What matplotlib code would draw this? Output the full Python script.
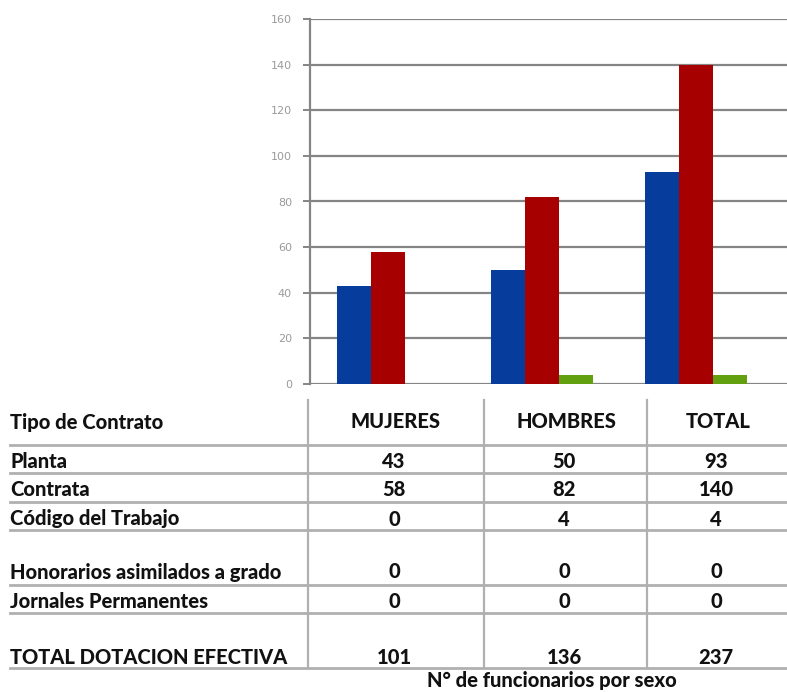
import matplotlib
matplotlib.use("Agg")
import matplotlib.pyplot as plt
from matplotlib.lines import Line2D

categories = ["MUJERES", "HOMBRES", "TOTAL"]
planta = [43, 50, 93]
contrata = [58, 82, 140]
codigo = [0, 4, 4]
honorarios = [0, 0, 0]
jornales = [0, 0, 0]
total_dot = [101, 136, 237]
row_labels = ["Planta", "Contrata", "Código del Trabajo", "Honorarios asimilados a grado",
              "Jornales Permanentes", "TOTAL DOTACION EFECTIVA"]
yticks = [0, 20, 40, 60, 80, 100, 120, 140, 160]

W, H = 787, 692
fig = plt.figure(figsize=(W / 100, H / 100), dpi=100)
fig.patch.set_facecolor("white")

def fx(x):
    return x / W

def fy(y):
    return 1 - y / H

ax = fig.add_axes([fx(310), fy(384), fx(787) - fx(310), fy(19) - fy(384)])
bw = 34 / 154
xs = list(range(len(categories)))
ax.bar([x - bw for x in xs], planta, width=bw, color="#063c9c", zorder=3)
ax.bar(xs, contrata, width=bw, color="#a60000", zorder=3)
ax.bar([x + bw for x in xs], codigo, width=bw, color="#62a010", zorder=3)
ax.set_xlim(-0.5 - 1 / 154, (787 - 310) / 154 - 0.5 - 1 / 154)
ax.set_ylim(0, 160)
ax.set_yticks(yticks)
ax.set_xticks([])
ax.yaxis.grid(True, color="#858585", linewidth=1.6, zorder=0)
ax.set_axisbelow(True)
for s in ["top", "right", "bottom"]:
    ax.spines[s].set_visible(False)
ax.spines["left"].set_color("#858585")
ax.spines["left"].set_linewidth(1.6)
ax.tick_params(axis="y", colors="#858585", labelcolor="#9a9a9a", labelsize=8,
               length=5, width=1.4, pad=8)
for lbl in ax.get_yticklabels():
    lbl.set_family("DejaVu Sans")

# table
font = dict(family="Lato", fontweight="black", fontsize=14.5, color="#111111")
line_col = "#b0b0b0"

def hline(y):
    fig.add_artist(Line2D([fx(10), fx(787)], [fy(y), fy(y)], color=line_col, linewidth=2.0))

def vline(x):
    fig.add_artist(Line2D([fx(x), fx(x)], [fy(400), fy(668)], color=line_col, linewidth=1.6))

for y in [445, 473, 502, 530, 585, 613, 668]:
    hline(y)
for x in [308, 484, 647]:
    vline(x)

col_x = [396, 566, 718]
fig.text(fx(10), fy(422), "Tipo de Contrato", ha="left", va="center", **font)
for cx, c in zip(col_x, categories):
    fig.text(fx(cx), fy(422), c, ha="center", va="center", **font)

row_y = [462, 490, 519, 572, 601, 657]
rows = [planta, contrata, codigo, honorarios, jornales, total_dot]
for ry, lab, vals in zip(row_y, row_labels, rows):
    fig.text(fx(10), fy(ry), lab, ha="left", va="center", **font)
    for cx, v in zip(col_x, vals):
        fig.text(fx(cx - 2), fy(ry), str(v), ha="center", va="center", **font)

fig.text(fx(552), fy(681), "N° de funcionarios por sexo", ha="center", va="center", **font)

fig.savefig("out.png", dpi=100, facecolor="white")
